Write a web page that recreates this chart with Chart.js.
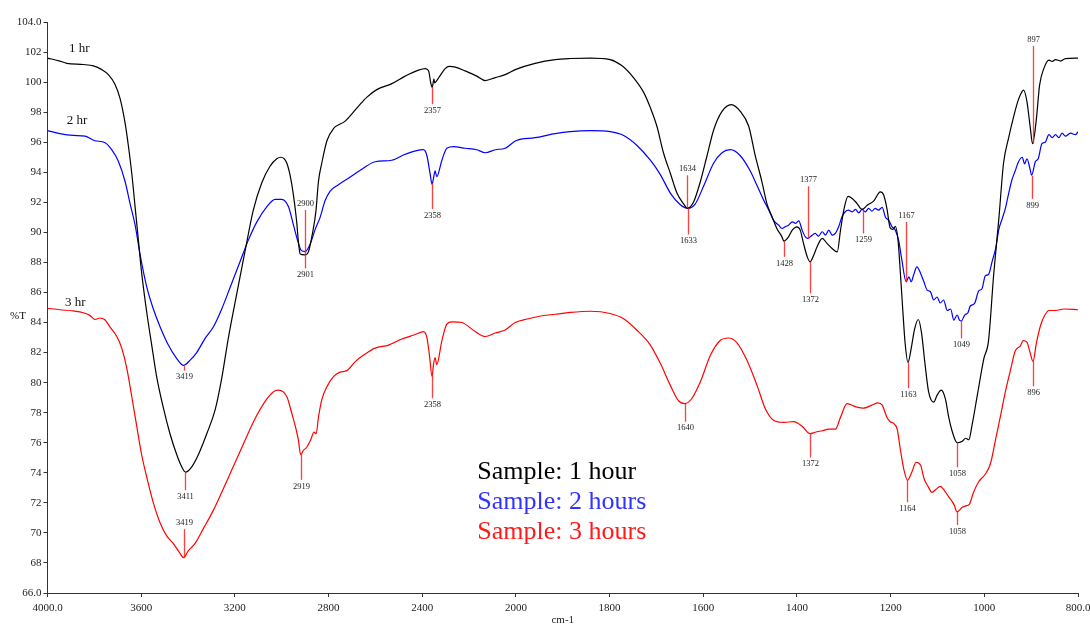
<!DOCTYPE html>
<html>
<head>
<meta charset="utf-8">
<title>FTIR spectra</title>
<script src="https://cdn.jsdelivr.net/npm/chart.js@4.4.1/dist/chart.umd.min.js"></script>
<style>
  html, body { margin: 0; padding: 0; background: #fff; }
  canvas { display: block; }
</style>
</head>
<body>
<canvas id="ftirChart" width="1090" height="624"></canvas>
<script>
// Axis ticks
const xTicks = [4000, 3600, 3200, 2800, 2400, 2000, 1800, 1600, 1400, 1200, 1000, 800];
const xTickLabels = ['4000.0', '3600', '3200', '2800', '2400', '2000', '1800', '1600', '1400', '1200', '1000', '800.0'];
const yTicks = [104, 102, 100, 98, 96, 94, 92, 90, 88, 86, 84, 82, 80, 78, 76, 74, 72, 70, 68, 66];

// 1 hr sample (black)
const hr1Wn = [4000, 3947, 3918, 3847, 3804, 3768, 3740, 3712, 3690, 3669, 3655, 3640, 3626, 3612, 3598, 3576, 3555, 3534, 3505, 3477,
  3448, 3427, 3411, 3384, 3356, 3320, 3284, 3256, 3228, 3192, 3156, 3121, 3085, 3050, 3021, 3004, 2978, 2957, 2936, 2929,
  2921, 2901, 2886, 2869, 2854, 2843, 2829, 2807, 2779, 2729, 2672, 2636, 2594, 2530, 2473, 2416, 2387, 2373, 2363, 2357,
  2353, 2350, 2347, 2338, 2323, 2302, 2285, 2259, 2217, 2167, 2131, 2088, 2046, 2000, 1959, 1916, 1884, 1841, 1799, 1774,
  1749, 1727, 1713, 1699, 1685, 1670, 1656, 1642, 1634, 1621, 1606, 1592, 1578, 1560, 1540, 1521, 1503, 1489, 1475, 1464,
  1453, 1443, 1432, 1428, 1418, 1410, 1400, 1393, 1386, 1378, 1372, 1364, 1357, 1346, 1336, 1325, 1314, 1307, 1300, 1291,
  1282, 1272, 1261, 1250, 1236, 1222, 1215, 1208, 1201, 1195, 1190, 1184, 1179, 1174, 1169, 1163, 1156, 1149, 1141, 1134,
  1127, 1119, 1108, 1101, 1092, 1083, 1076, 1068, 1058, 1047, 1040, 1033, 1026, 1015, 1001, 991, 980, 969, 959, 948,
  937, 927, 916, 909, 902, 897, 889, 882, 873, 862, 855, 848, 837, 827, 800];
const hr1T = [101.6, 101.4, 101.25, 101.17, 101.08, 100.83, 100.5, 99.86, 98.9, 97.3, 95.8, 93.9, 91.7, 89.5, 87.3, 84.65, 82.5, 80.4, 78.3, 76.6,
  75.2, 74.4, 74.05, 74.4, 75.2, 76.6, 78.2, 80.3, 82.95, 85.9, 88.8, 91.5, 93.3, 94.4, 94.9, 95.0, 94.6, 93.2, 90.7, 89.43,
  88.56, 88.5, 88.7, 89.9, 91.4, 93.4, 94.6, 96.1, 96.9, 97.4, 98.4, 99.0, 99.5, 99.9, 100.4, 100.8, 100.9, 100.75, 99.9, 99.65,
  100.0, 100.2, 99.95, 100.1, 100.45, 100.9, 101.05, 101.0, 100.75, 100.4, 100.1, 100.3, 100.5, 100.85, 101.25, 101.5, 101.57, 101.6, 101.5, 101.1,
  100.3, 99.3, 98.3, 97.06, 95.3, 93.9, 92.6, 91.9, 91.6, 92.0, 93.4, 95.1, 96.8, 98.05, 98.5, 98.05, 97.06, 95.1, 93.4, 91.9,
  91.03, 90.26, 89.7, 89.42, 89.7, 90.15, 90.37, 90.15, 89.27, 88.37, 88.04, 88.5, 89.04, 89.6, 89.27, 88.93, 88.7, 90.15, 91.48, 92.4,
  92.26, 91.93, 91.53, 91.8, 92.1, 92.7, 92.5, 91.6, 90.3, 90.2, 90.4, 89.4, 87.2, 84.8, 82.6, 81.35, 82.3, 83.55, 84.2, 83.3,
  81.35, 79.4, 78.7, 79.15, 79.5, 78.9, 77.7, 76.7, 76.0, 76.1, 76.3, 76.2, 77.2, 79.15, 81.6, 82.8, 87.2, 90.9, 94.6, 96.3,
  97.75, 98.85, 99.46, 98.7, 97.0, 95.9, 97.5, 99.8, 100.9, 101.46, 101.37, 101.5, 101.4, 101.56, 101.6];

// 2 hr sample (blue)
const hr2Wn = [4000, 3947, 3890, 3840, 3797, 3754, 3726, 3698, 3669, 3648, 3626, 3605, 3576, 3548, 3519, 3484, 3448, 3419, 3391, 3363,
  3327, 3292, 3256, 3220, 3178, 3142, 3106, 3064, 3028, 3000, 2971, 2950, 2929, 2917, 2900, 2879, 2857, 2836, 2815, 2793,
  2758, 2715, 2658, 2601, 2530, 2473, 2395, 2380, 2366, 2358, 2352, 2345, 2338, 2316, 2295, 2266, 2217, 2167, 2131, 2088,
  2046, 2000, 1959, 1916, 1884, 1841, 1799, 1770, 1742, 1713, 1692, 1670, 1649, 1633, 1617, 1599, 1578, 1560, 1542, 1521,
  1500, 1485, 1471, 1460, 1450, 1439, 1432, 1425, 1418, 1410, 1403, 1396, 1389, 1382, 1377, 1368, 1361, 1354, 1346, 1339,
  1332, 1325, 1318, 1311, 1304, 1297, 1290, 1282, 1275, 1268, 1261, 1254, 1247, 1240, 1233, 1226, 1218, 1211, 1204, 1197,
  1190, 1183, 1176, 1167, 1161, 1156, 1151, 1144, 1136, 1129, 1122, 1115, 1108, 1101, 1094, 1087, 1079, 1072, 1065, 1058,
  1053, 1049, 1042, 1035, 1030, 1021, 1012, 1005, 998, 991, 983, 976, 969, 962, 955, 948, 941, 934, 927, 919,
  914, 909, 903, 899, 891, 885, 877, 870, 862, 855, 848, 841, 834, 827, 816, 805, 800];
const hr2T = [96.77, 96.57, 96.45, 96.4, 96.1, 95.97, 95.5, 94.75, 93.4, 91.95, 90.5, 88.55, 86.35, 84.9, 83.7, 82.5, 81.6, 81.15, 81.5, 82.0,
  82.95, 83.7, 84.9, 86.35, 88.05, 89.5, 90.7, 91.7, 92.2, 92.2, 91.7, 90.5, 89.3, 88.8, 88.72, 89.2, 90.2, 91.0, 92.1, 92.75,
  93.17, 93.6, 94.2, 94.7, 94.8, 95.2, 95.5, 95.1, 93.86, 93.2, 93.6, 94.1, 93.7, 94.8, 95.6, 95.7, 95.6, 95.5, 95.3, 95.5,
  95.6, 96.1, 96.3, 96.57, 96.7, 96.77, 96.7, 96.45, 95.8, 94.8, 93.86, 92.6, 91.84, 91.6, 91.9, 93.1, 94.6, 95.3, 95.5, 95.1,
  94.1, 93.1, 92.14, 91.48, 90.8, 90.48, 90.26, 90.37, 90.48, 90.7, 90.6, 90.77, 90.15, 89.7, 89.6, 89.8, 89.93, 89.75, 90.04, 89.82,
  90.15, 89.82, 89.93, 90.37, 91.03, 91.37, 91.48, 91.37, 91.53, 91.3, 91.53, 91.37, 91.6, 91.41, 91.6, 91.48, 91.66, 91.0, 90.8, 90.37,
  90.15, 89.48, 88.15, 86.71, 87.04, 86.71, 87.16, 87.71, 87.27, 86.71, 86.16, 86.05, 85.5, 85.7, 85.3, 85.5, 84.8, 84.9, 84.16, 84.5,
  84.16, 84.1, 84.5, 84.65, 85.1, 85.26, 86.1, 86.25, 87.1, 87.2, 88.1, 88.9, 90.2, 90.9, 91.6, 92.6, 93.5, 94.1, 94.7, 95.0,
  94.56, 94.9, 94.3, 93.8, 94.7, 94.9, 95.9, 96.0, 96.5, 96.3, 96.5, 96.3, 96.6, 96.4, 96.6, 96.5, 96.7];

// 3 hr sample (red)
const hr3Wn = [4000, 3947, 3890, 3847, 3818, 3797, 3776, 3754, 3733, 3704, 3683, 3662, 3640, 3619, 3598, 3576, 3548, 3519, 3491, 3463,
  3437, 3419, 3399, 3370, 3334, 3292, 3256, 3213, 3164, 3114, 3064, 3035, 3014, 2978, 2957, 2938, 2929, 2919, 2907, 2893,
  2876, 2862, 2853, 2843, 2829, 2807, 2779, 2751, 2722, 2686, 2644, 2601, 2544, 2487, 2430, 2395, 2380, 2369, 2358, 2352,
  2345, 2338, 2316, 2295, 2273, 2231, 2174, 2131, 2088, 2046, 2003, 1973, 1944, 1916, 1884, 1841, 1799, 1770, 1742, 1713,
  1692, 1670, 1653, 1640, 1624, 1606, 1585, 1564, 1546, 1528, 1507, 1485, 1468, 1450, 1428, 1407, 1389, 1372, 1361, 1346,
  1332, 1318, 1307, 1293, 1275, 1258, 1240, 1227, 1218, 1208, 1201, 1194, 1186, 1179, 1172, 1164, 1154, 1146, 1136, 1129,
  1119, 1112, 1103, 1094, 1087, 1076, 1065, 1058, 1047, 1040, 1032, 1023, 1012, 998, 987, 976, 966, 955, 944, 934,
  923, 917, 909, 902, 896, 889, 880, 871, 862, 848, 830, 800];
const hr3T = [84.95, 84.85, 84.77, 84.65, 84.46, 84.2, 84.3, 84.17, 83.7, 83.07, 82.3, 81.0, 79.06, 77.1, 75.2, 73.7, 72.0, 70.66, 69.8, 69.3,
  68.7, 68.35, 68.8, 69.3, 70.3, 71.5, 72.7, 74.2, 75.9, 77.6, 78.9, 79.4, 79.5, 79.06, 77.96, 76.85, 76.2, 75.2, 75.5, 75.7,
  76.2, 76.7, 76.6, 77.7, 78.85, 79.73, 80.4, 80.7, 80.8, 81.4, 81.9, 82.3, 82.5, 82.9, 83.2, 83.4, 83.0, 81.8, 80.4, 81.2,
  81.67, 81.2, 82.8, 83.9, 84.05, 84.0, 83.4, 83.07, 83.3, 83.5, 84.0, 84.25, 84.45, 84.55, 84.67, 84.75, 84.6, 84.25, 83.5, 82.5,
  81.3, 79.8, 78.8, 78.6, 78.96, 80.07, 81.8, 82.8, 82.97, 82.65, 81.5, 79.8, 78.3, 77.5, 77.36, 77.4, 77.1, 76.6, 76.7, 76.8,
  76.9, 76.9, 77.7, 78.6, 78.4, 78.3, 78.5, 78.65, 78.5, 77.7, 77.4, 77.3, 76.9, 75.5, 74.25, 73.5, 74.1, 74.7, 74.5, 73.64,
  73.03, 72.7, 72.9, 73.1, 72.9, 72.4, 71.9, 71.4, 71.7, 71.8, 71.9, 72.7, 73.4, 73.9, 74.6, 76.2, 77.7, 79.4, 80.86, 82.1,
  82.45, 82.8, 82.7, 81.96, 81.4, 82.6, 83.8, 84.48, 84.8, 84.8, 84.9, 84.85];

// Peak marks: wavenumber, %T where the red line starts and ends (label sits past the end)
const peakWn =   [3411, 2901, 2357, 1634, 1428, 1372, 1163, 1058, 897,
                  3419, 2900, 2358, 1633, 1377, 1259, 1167, 1049, 899,
                  3419, 2919, 2358, 1640, 1372, 1164, 1058, 896];
const peakFrom = [74.0, 88.8, 99.69, 91.64, 89.42, 88.04, 81.34, 76.0, 95.9,
                  81.1, 88.77, 93.24, 91.6, 89.6, 91.48, 86.7, 84.09, 93.77,
                  68.32, 75.2, 80.44, 78.59, 76.62, 73.51, 71.43, 81.41];
const peakTo =   [72.85, 87.6, 98.53, 93.8, 88.37, 85.94, 79.63, 74.36, 102.4,
                  80.8, 91.48, 91.55, 89.86, 93.07, 89.93, 90.7, 82.94, 92.23,
                  70.25, 73.53, 78.96, 77.4, 75.02, 72.04, 70.53, 79.75];

// Series names next to the curves and the legend block
const seriesNames = ['1 hr', '2 hr', '3 hr'];
const seriesNameAt = [[3908, 102.25], [3918, 97.46], [3925, 85.36]];
const legendTexts = ['Sample: 1 hour', 'Sample: 2 hours', 'Sample: 3 hours'];
const legendColors = ['#000000', '#3333ff', '#ff1a1a'];
const legendAt = [[2165, 73.59], [2165, 71.6], [2165, 69.6]];

const serif = "'Liberation Serif', 'Times New Roman', serif";

// x axis with 2x expansion below 2000 cm-1 (each tick step gets the same width)
const breakWn = 2000, upperStep = 400, lowerStep = 200;
class BrokenScale extends Chart.LinearScale {
    static id = 'broken';
    upperSteps() { return (this.max - breakWn) / upperStep; }
    totalSteps() { return this.upperSteps() + (breakWn - this.min) / lowerStep; }
    getPixelForValue(value) {
        if (value === null || value === undefined) return NaN;
        const pos = value >= breakWn
            ? (this.max - value) / upperStep
            : this.upperSteps() + (breakWn - value) / lowerStep;
        return this.getPixelForDecimal(pos / this.totalSteps());
    }
    getValueForPixel(pixel) {
        const pos = this.getDecimalForPixel(pixel) * this.totalSteps();
        const up = this.upperSteps();
        return pos <= up ? this.max - pos * upperStep : breakWn - (pos - up) * lowerStep;
    }
}
Chart.register(BrokenScale);

function toPoints(xs, ys) {
    return xs.map((x, i) => ({ x: x, y: ys[i] }));
}

// draws peak marks, curve names, legend and the %T label
const textLayer = {
    id: 'textLayer',
    afterDatasetsDraw(chart) {
        const { ctx, scales: { x, y } } = chart;
        ctx.save();

        ctx.strokeStyle = 'rgba(255, 30, 30, 0.85)';
        ctx.lineWidth = 1.3;
        ctx.fillStyle = '#222';
        ctx.font = '8.5px ' + serif;
        ctx.textAlign = 'center';
        ctx.textBaseline = 'middle';
        peakWn.forEach((wn, i) => {
            const px = Math.round(x.getPixelForValue(wn)) + 0.5;
            const y1 = y.getPixelForValue(peakFrom[i]);
            const y2 = y.getPixelForValue(peakTo[i]);
            ctx.beginPath();
            ctx.moveTo(px, y1);
            ctx.lineTo(px, y2);
            ctx.stroke();
            const dir = y2 > y1 ? 1 : -1;
            ctx.fillText(String(wn), px, y2 + dir * 6.5);
        });

        ctx.textAlign = 'left';
        ctx.fillStyle = '#111';
        ctx.font = '13px ' + serif;
        seriesNames.forEach((name, i) => {
            ctx.fillText(name, x.getPixelForValue(seriesNameAt[i][0]), y.getPixelForValue(seriesNameAt[i][1]));
        });

        ctx.font = '11px ' + serif;
        ctx.fillText('%T', 10, y.getPixelForValue(84.45));

        ctx.textBaseline = 'alphabetic';
        ctx.font = '26px ' + serif;
        legendTexts.forEach((t, i) => {
            ctx.fillStyle = legendColors[i];
            ctx.fillText(t, x.getPixelForValue(legendAt[i][0]), y.getPixelForValue(legendAt[i][1]));
        });
        ctx.restore();
    }
};

const ctx = document.getElementById('ftirChart');
new Chart(ctx, {
    type: 'line',
    data: {
        datasets: [
            { label: '1 hr', data: toPoints(hr1Wn, hr1T), borderColor: '#000000' },
            { label: '2 hr', data: toPoints(hr2Wn, hr2T), borderColor: '#0000ff' },
            { label: '3 hr', data: toPoints(hr3Wn, hr3T), borderColor: '#ff0000' }
        ]
    },
    options: {
        responsive: false,
        animation: false,
        devicePixelRatio: 1,
        layout: { padding: { top: 22, right: 12, bottom: 0, left: 0 } },
        elements: {
            point: { radius: 0 },
            line: { borderWidth: 1.2, cubicInterpolationMode: 'monotone', fill: false }
        },
        plugins: {
            legend: { display: false },
            tooltip: { enabled: false }
        },
        scales: {
            x: {
                type: 'broken',
                min: 800,
                max: 4000,
                afterBuildTicks: axis => { axis.ticks = xTicks.map(v => ({ value: v })); },
                // the last label is allowed to run off the canvas edge, as in the original
                afterFit: axis => { axis.height = 31; axis.paddingLeft = 0; axis.paddingRight = 0; },
                grid: { drawOnChartArea: false, drawTicks: true, tickLength: 4, color: '#333' },
                border: { display: true, color: '#333', width: 1 },
                ticks: {
                    autoSkip: false, maxRotation: 0, padding: 5, color: '#222',
                    font: { family: serif, size: 11 },
                    callback: (value, index) => xTickLabels[index]
                },
                title: {
                    display: true, text: 'cm-1', color: '#222', padding: { top: 0, bottom: -1.5 },
                    font: { family: serif, size: 11, lineHeight: 1 }
                }
            },
            y: {
                type: 'linear',
                min: 66,
                max: 104,
                afterBuildTicks: axis => { axis.ticks = yTicks.map(v => ({ value: v })); },
                afterFit: axis => { axis.width = 47.5; axis.paddingTop = 0; axis.paddingBottom = 0; },
                grid: { drawOnChartArea: false, drawTicks: true, tickLength: 4, color: '#333' },
                border: { display: true, color: '#333', width: 1 },
                ticks: {
                    autoSkip: false, padding: 2, color: '#222',
                    font: { family: serif, size: 11 },
                    callback: v => (v === 104 || v === 66) ? v.toFixed(1) : String(v)
                }
            }
        }
    },
    plugins: [textLayer]
});
</script>
</body>
</html>
